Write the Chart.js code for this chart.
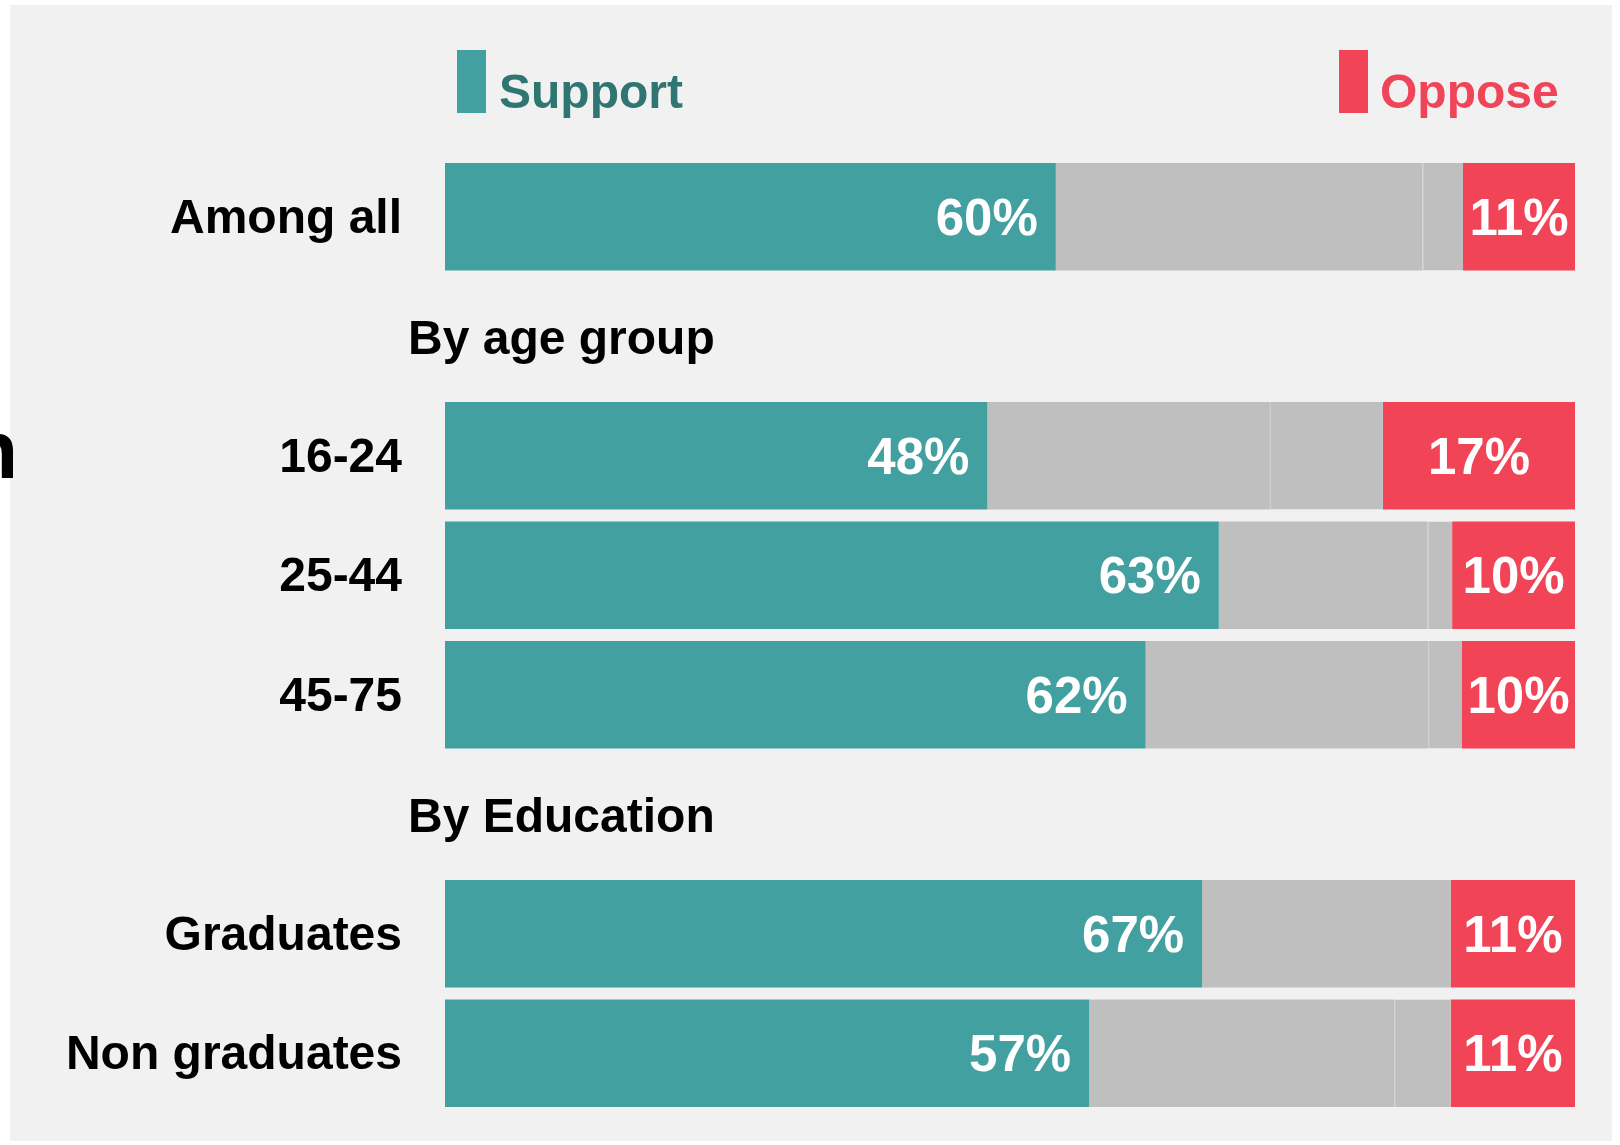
<!DOCTYPE html>
<html>
<head>
<meta charset="utf-8">
<script src="https://cdn.jsdelivr.net/npm/chart.js@4.4.1/dist/chart.umd.min.js"></script>
<style>
    html, body { margin: 0; padding: 0; background: #ffffff; }
    #wrap { width: 1620px; height: 1145px; }
</style>
</head>
<body>
<div id="wrap"><canvas id="supportChart" width="1620" height="1145"></canvas></div>
<script>
const categories = ['Among all', 'By age group', '16-24', '25-44', '45-75', 'By Education', 'Graduates', 'Non graduates'];
const headerRows = ['By age group', 'By Education'];
const support  = [60, null, 48, 63, 62, null, 67, 57];
const neither  = [36, null, 25, 17, 25, null, 22, 27];
const dontKnow = [4,  null, 10, 2,  3,  null, 0,  5];
const oppose   = [11, null, 17, 10, 10, null, 11, 11];

const TEAL = '#43a0a0';
const GREY = '#bfbfbf';
const RED = '#f24457';
const FONT = '"Liberation Sans", Arial, sans-serif';

// each row is drawn as share of its own total
const totals = categories.map((c, i) => support[i] == null ? null :
    support[i] + neither[i] + dontKnow[i] + oppose[i]);
function share(arr) {
    return arr.map((v, i) => v == null ? null : v / totals[i] * 100);
}

const panelPlugin = {
    id: 'panel',
    beforeDraw(chart) {
        const ctx = chart.ctx;
        ctx.save();
        ctx.fillStyle = '#ffffff';
        ctx.fillRect(0, 0, chart.width, chart.height);
        ctx.fillStyle = '#f1f1f1';
        ctx.fillRect(10, 5, 1602, 1136);
        ctx.restore();
    },
    afterDraw(chart) {
        const ctx = chart.ctx;
        const yScale = chart.scales.y;
        ctx.save();
        // cut-off title glyph at the left edge
        ctx.fillStyle = '#000000';
        ctx.font = 'bold 82px ' + FONT;
        ctx.textAlign = 'right';
        ctx.textBaseline = 'alphabetic';
        ctx.fillText('n', 18, 478);

        // group headers
        ctx.font = 'bold 48px ' + FONT;
        ctx.textAlign = 'left';
        ctx.textBaseline = 'middle';
        categories.forEach((c, i) => {
            if (headerRows.includes(c)) {
                ctx.fillText(c, 408, yScale.getPixelForValue(i) + 5);
            }
        });

        // legend
        ctx.fillStyle = TEAL;
        ctx.fillRect(457, 50, 29, 63);
        ctx.fillStyle = RED;
        ctx.fillRect(1339, 50, 29, 63);
        ctx.font = 'bold 48px ' + FONT;
        ctx.textBaseline = 'alphabetic';
        ctx.fillStyle = '#2f7673';
        ctx.fillText('Support', 499, 108);
        ctx.fillStyle = '#f04458';
        ctx.fillText('Oppose', 1380, 108);

        // value labels
        ctx.fillStyle = '#ffffff';
        ctx.font = 'bold 51px ' + FONT;
        ctx.textBaseline = 'middle';
        const supMeta = chart.getDatasetMeta(0);
        const oppMeta = chart.getDatasetMeta(3);
        categories.forEach((c, i) => {
            if (support[i] == null) return;
            const s = supMeta.data[i];
            ctx.textAlign = 'right';
            ctx.fillText(support[i] + '%', s.x - 18, s.y + 4);
            const o = oppMeta.data[i];
            ctx.textAlign = 'center';
            ctx.fillText(oppose[i] + '%', (o.base + o.x) / 2, o.y + 4);
        });
        ctx.restore();
    }
};

const ctx1 = document.getElementById('supportChart').getContext('2d');
const chartSupport = new Chart(ctx1, {
    type: 'bar',
    data: {
        labels: categories,
        datasets: [{
            label: 'Support',
            data: share(support),
            backgroundColor: TEAL,
            borderWidth: 0
        }, {
            label: 'Neither',
            data: share(neither),
            backgroundColor: GREY,
            borderWidth: 0
        }, {
            label: "Don't know",
            data: share(dontKnow),
            backgroundColor: GREY,
            borderColor: '#cbcbcb',
            borderWidth: {left: 1, right: 0, top: 0, bottom: 0},
            borderSkipped: false
        }, {
            label: 'Oppose',
            data: share(oppose),
            backgroundColor: RED,
            borderWidth: 0
        }]
    },
    options: {
        indexAxis: 'y',
        responsive: false,
        animation: false,
        layout: {
            padding: {left: 0, right: 45, top: 157, bottom: 32}
        },
        datasets: {
            bar: {
                categoryPercentage: 1,
                barPercentage: 0.9
            }
        },
        scales: {
            x: {
                stacked: true,
                min: 0,
                max: 100,
                display: false
            },
            y: {
                stacked: true,
                grid: {display: false, drawTicks: false},
                border: {display: false},
                afterFit(scale) {
                    scale.width = 445;
                    scale.paddingTop = 0;
                    scale.paddingBottom = 0;
                },
                ticks: {
                    padding: 43,
                    labelOffset: 3,
                    color: '#000000',
                    font: {family: FONT, size: 48, weight: 'bold'},
                    callback: function (value, index) {
                        const c = categories[index];
                        return headerRows.includes(c) ? '' : c;
                    }
                }
            }
        },
        plugins: {
            legend: {display: false},
            tooltip: {enabled: false}
        }
    },
    plugins: [panelPlugin]
});
</script>
</body>
</html>
